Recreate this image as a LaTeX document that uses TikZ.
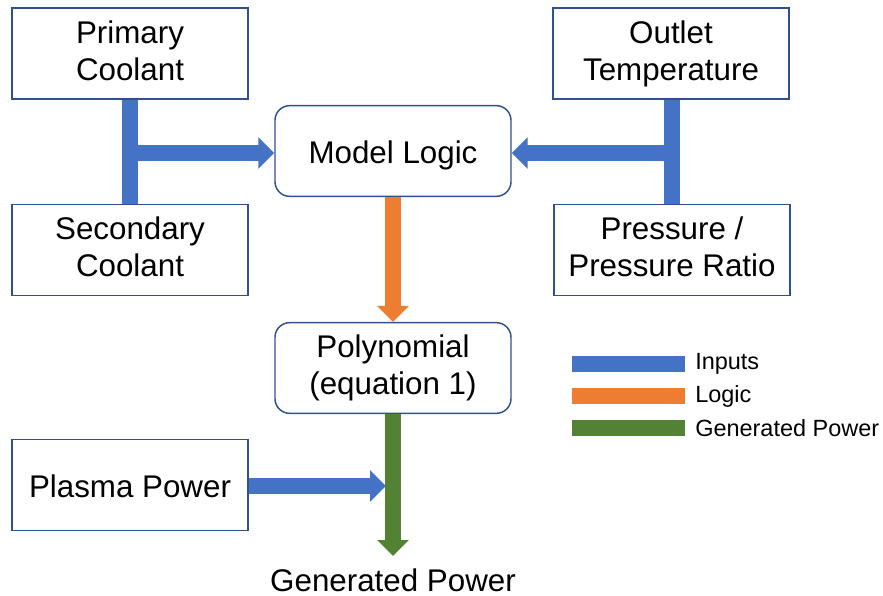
\documentclass[tikz,border=0pt]{standalone}
\usepackage{fontspec}
\setmainfont{Liberation Sans}
\usetikzlibrary{arrows.meta}
\definecolor{inblue}{HTML}{4472C4}
\definecolor{logorange}{HTML}{ED7D31}
\definecolor{gengreen}{HTML}{548235}
\definecolor{boxline}{HTML}{2F528F}
\newcommand{\boxstrut}{\rule[-4.6pt]{0pt}{27.75pt}}
\tikzset{
  bigfont/.style={font=\fontsize{23.5}{27.75}\selectfont},
  sqbox/.style={draw=boxline, line width=1.1pt, fill=white, minimum width=177pt, minimum height=68pt, align=center, inner sep=2pt, bigfont,
    execute at begin node=\boxstrut, execute at end node=\boxstrut},
  rbox/.style={sqbox, rounded corners=11pt},
  flow/.style={line width=12pt, line cap=butt, -{Triangle[width=23pt,length=12pt]}},
  bar/.style={line width=12pt, line cap=butt},
  legtext/.style={anchor=west, inner sep=0pt, font=\fontsize{17.6}{20}\selectfont}
}
\begin{document}
\begin{tikzpicture}[x=0.75pt,y=-0.75pt]
\useasboundingbox (0,0) rectangle (883,596);
% nodes
\node[sqbox] (prim) at (130,53.5) {Primary\\Coolant};
\node[sqbox] (sec) at (130,250) {Secondary\\Coolant};
\node[sqbox] (outl) at (671,53.5) {Outlet\\Temperature};
\node[sqbox] (pres) at (672,250) {Pressure /\\Pressure Ratio};
\node[rbox] (ml) at (393,151) {Model Logic};
\node[rbox] (poly) at (393,368) {Polynomial\\(equation 1)};
\node[sqbox] (plasma) at (130,485) {Plasma Power};
\coordinate (ljoin) at (130,153);
\coordinate (rjoin) at (672,153);
\coordinate (gtip) at (393,556);
\coordinate (ptip) at (386,486);
\node[bigfont, inner sep=0pt] (gen) at (393,580) {Generated Power};
% connectors
\draw[bar, inblue] (prim.south) -- (sec.north);
\draw[bar, inblue] (outl.south -| rjoin) -- (pres.north -| rjoin);
\draw[flow, inblue] (ljoin) -- (ljoin -| ml.west);
\draw[flow, inblue] (rjoin) -- (rjoin -| ml.east);
\draw[flow, logorange] (ml.south) -- (poly.north);
\draw[flow, gengreen] (poly.south) -- (gtip);
\draw[flow, inblue] (plasma.east |- ptip) -- (ptip);
% legend
\fill[inblue] (572,356) rectangle (685,372);
\fill[logorange] (572,388) rectangle (685,404);
\fill[gengreen] (572,420) rectangle (685,436);
\node[legtext] (l1) at (695,364) {Inputs};
\node[legtext] (l2) at (695,396) {Logic};
\node[legtext] (l3) at (695,428) {Generated Power};
\end{tikzpicture}
\end{document}
